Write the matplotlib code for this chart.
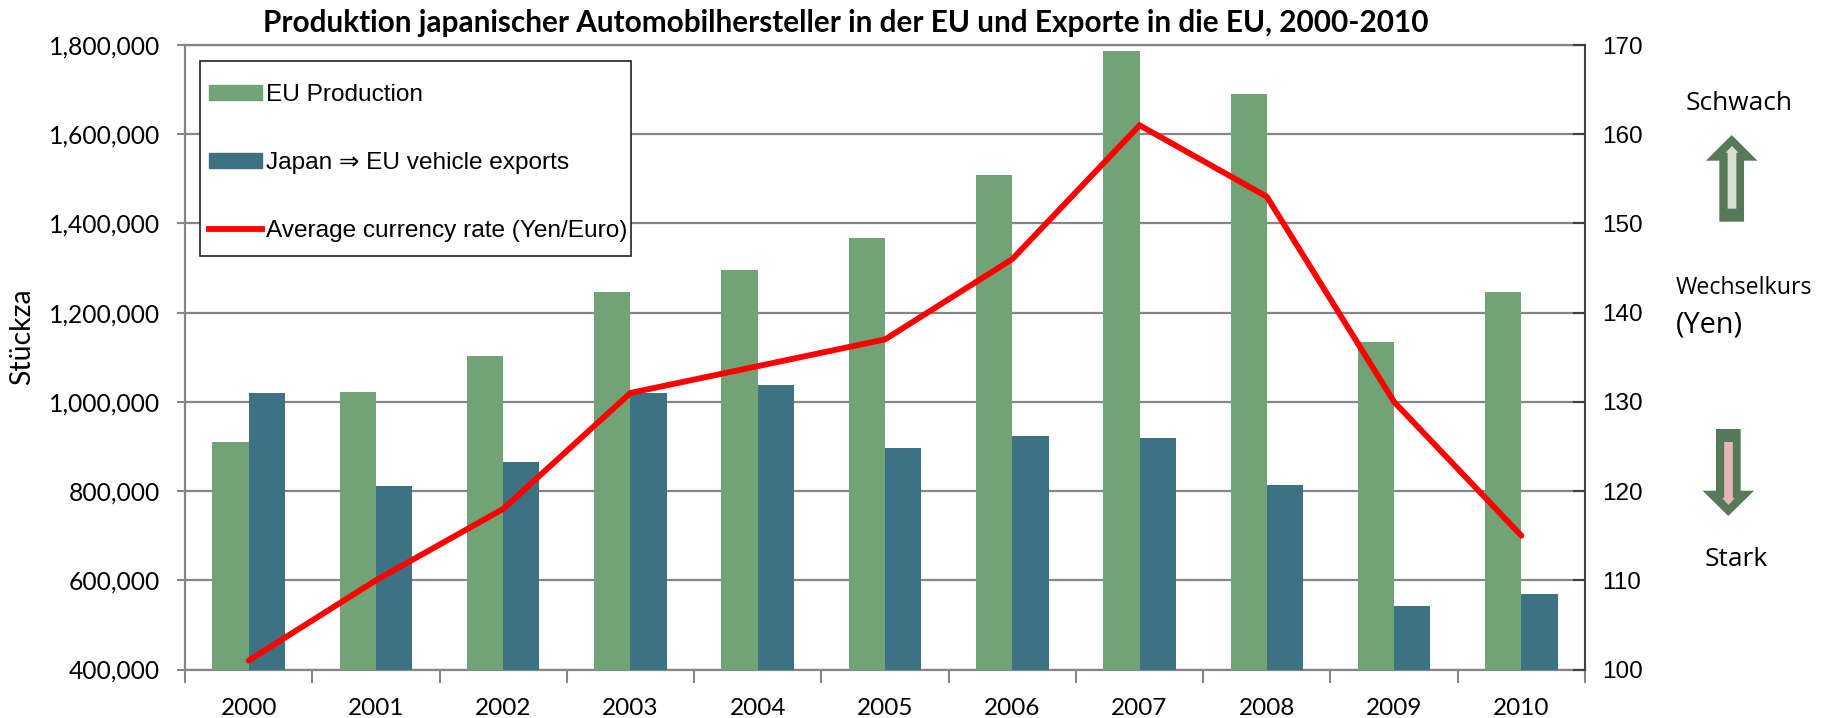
import matplotlib
matplotlib.use('Agg')
import matplotlib.pyplot as plt
from matplotlib.patches import Patch, FancyArrow, Rectangle
from matplotlib.lines import Line2D
from matplotlib.ticker import FuncFormatter
import numpy as np

years = ['2000', '2001', '2002', '2003', '2004', '2005', '2006', '2007', '2008', '2009', '2010']
eu_production = [910000, 1022000, 1103000, 1246000, 1295000, 1368000, 1508000, 1787000, 1691000, 1135000, 1246000]
japan_exports = [1019000, 811000, 866000, 1019000, 1037000, 897000, 923000, 918000, 814000, 543000, 569000]
yen_euro = [101, 110, 118, 131, 134, 137, 146, 161, 153, 130, 115]

W, H = 1825, 718
GREEN = '#71A376'
BLUE = '#3D7283'
GRAY = '#868686'
sans = ['Liberation Sans', 'DejaVu Sans']

fig = plt.figure(figsize=(W / 100, H / 100), dpi=100)
left, right, top, bottom = 185, 1585, 45, 669.5
ax1 = fig.add_axes([left / W, 1 - bottom / H, (right - left) / W, (bottom - top) / H])

x = np.arange(len(years))
bar_w = 0.285
ax1.bar(x - bar_w / 2, eu_production, bar_w, color=GREEN, zorder=3)
ax1.bar(x + bar_w / 2, japan_exports, bar_w, color=BLUE, zorder=3)
ax1.set_xlim(-0.5, 10.5)
ax1.set_ylim(400000, 1800000)
ax1.set_yticks(np.arange(400000, 1800001, 200000))
ax1.yaxis.set_major_formatter(FuncFormatter(lambda v, p: format(int(v), ',')))
ax1.grid(True, axis='y', color=GRAY, lw=1.6, zorder=1)

# year labels sit between the tick marks
ax1.set_xticks(np.arange(-0.5, 11, 1))
ax1.set_xticklabels([])
ax1.set_xticks(x, minor=True)
ax1.set_xticklabels(years, minor=True, fontfamily='Lato', fontsize=17.5)
ax1.tick_params(axis='x', which='major', length=9, width=1.5, color=GRAY, direction='out')
ax1.tick_params(axis='x', which='minor', length=0, pad=20.5)
ax1.tick_params(axis='y', length=6, width=1.5, color=GRAY, direction='out', pad=12)
for t in ax1.get_yticklabels():
    t.set_fontfamily('Lato')
    t.set_fontsize(17.7)
for s in ['left', 'bottom', 'top']:
    ax1.spines[s].set_color(GRAY)
    ax1.spines[s].set_linewidth(1.6)
ax1.spines['right'].set_visible(False)

ax2 = ax1.twinx()
ax2.plot(x, yen_euro, color='#FF0000', lw=4.2, solid_capstyle='round', solid_joinstyle='miter', zorder=5)
ax2.set_ylim(100, 170)
ax2.set_yticks(np.arange(100, 171, 10))
ax2.tick_params(axis='y', length=9, width=1.5, color='#404040', direction='in', pad=12)
for t in ax2.get_yticklabels():
    t.set_fontfamily(sans)
    t.set_fontsize(17.5)
for s in ['left', 'bottom', 'top']:
    ax2.spines[s].set_visible(False)
ax2.spines['right'].set_color('#404040')
ax2.spines['right'].set_linewidth(1.5)

# overlay in pixels for legend box, side notes and arrows
over = fig.add_axes([0, 0, 1, 1], facecolor='none')
over.set_xlim(0, W)
over.set_ylim(H, 0)
over.axis('off')

over.add_patch(Rectangle((200.5, 60.5), 431, 195.5, facecolor='white', edgecolor='#222222', lw=1.2))
handles = [Patch(color=GREEN), Patch(color=BLUE), Line2D([0], [0], color='#FF0000', lw=4.2)]
labels = ['EU Production', 'Japan \u21d2 EU vehicle exports', 'Average currency rate (Yen/Euro)']
over.legend(handles, labels, loc='upper left', bbox_to_anchor=(209, 84), bbox_transform=over.transData,
            borderaxespad=0, borderpad=0, frameon=False, prop={'family': sans, 'size': 17.6},
            labelspacing=1.88, handlelength=2.15, handleheight=0.55, handletextpad=0.2)

over.text(846, 23, 'Produktion japanischer Automobilhersteller in der EU und Exporte in die EU, 2000-2010',
          ha='center', va='center', fontfamily='Lato', fontweight='bold', fontsize=21.4)
over.text(22, 337, 'Stückza', rotation=90, ha='center', va='center', fontfamily='Lato', fontsize=20.5)
over.text(1739, 104, 'Schwach', ha='center', va='center', fontfamily='Open Sans', fontsize=18.9)
over.text(1675.5, 288, 'Wechselkurs', ha='left', va='center', fontfamily='Open Sans', fontsize=16.7)
over.text(1675.5, 325, '(Yen)', ha='left', va='center', fontfamily='Open Sans', fontsize=20.8)
over.text(1736, 560, 'Stark', ha='center', va='center', fontfamily='Open Sans', fontsize=19)


def arrow(xc, y0, y1, shaft, head, head_len, color):
    over.add_patch(FancyArrow(xc, y0, 0, y1 - y0, width=shaft, head_width=head, head_length=head_len,
                              length_includes_head=True, color=color, lw=0))


arrow(1731.7, 221.7, 135, 24.7, 51.5, 25.7, '#567A58')
arrow(1732, 208.7, 146, 8.7, 13, 6.7, '#D5E0D3')
arrow(1728.3, 429, 516, 24.7, 51.5, 25.3, '#567A58')
arrow(1728.5, 442, 505, 8.7, 13, 7, '#E6B5B5')

fig.savefig('out.png', dpi=100)
